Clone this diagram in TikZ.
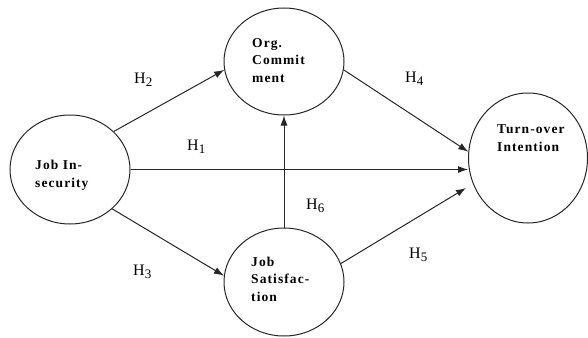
\documentclass[tikz,border=0pt]{standalone}
\usepackage{fontspec}
\setmainfont{Liberation Serif}
\usetikzlibrary{shapes.geometric,arrows.meta,calc}
\newcommand\hsub[1]{H\raisebox{-3pt}{\fontsize{13}{13}\selectfont #1}}
\begin{document}
\begin{tikzpicture}[x=1pt,y=-1pt,
  cons/.style={draw=black!85,line width=1pt,ellipse,inner sep=0pt},
  lbl/.style={font=\fontsize{13.5}{17.5}\selectfont\bfseries\addfontfeature{LetterSpace=8},align=left,anchor=base west,inner sep=0pt},
  hyp/.style={font=\fontsize{16}{18}\selectfont,anchor=base west,inner sep=0pt},
  link/.style={draw=black!85,line width=1pt,-{Latex[length=10pt,width=7pt]}}]
\useasboundingbox (0,0) rectangle (588,337);
\fill[white] (0,0) rectangle (588,337);
% constructs
\node[cons,minimum width=120,minimum height=109] (ji) at (70,169.5) {};
\node[cons,minimum width=120,minimum height=107] (oc) at (284,61.5) {};
\node[cons,minimum width=120,minimum height=108] (js) at (284,282) {};
\node[cons,minimum width=119,minimum height=130] (ti) at (528,158) {};
% texts (anchored at baseline of last line)
\node[lbl] (tji) at (35,187) {Job In-\\security};
\node[lbl] (toc) at (252,82) {Org.\\Commit\\ment};
\node[lbl] (tjs) at (251,301) {Job\\Satisfac-\\tion};
\node[lbl] (tti) at (497,151) {Turn-over\\Intention};
% connectors
\draw[link] (ji.41) -- (oc.188);
\draw[link] (ji.east) -- (ti.west |- ji.east);
\draw[link] (ji.-43) -- (js.174);
\draw[link] (oc.-8) -- (ti.174.4);
\draw[link] (js.18.7) -- ($(ti.west)+(-2,30)$);
\draw[link] (js.north) -- (oc.south);
% hypothesis labels
\node[hyp] (h1) at (187,150) {\hsub{1}};
\node[hyp] (h2) at (134,83) {\hsub{2}};
\node[hyp] (h3) at (133,275) {\hsub{3}};
\node[hyp] (h4) at (405,82) {\hsub{4}};
\node[hyp] (h5) at (409,258) {\hsub{5}};
\node[hyp] (h6) at (306,209) {\hsub{6}};
\end{tikzpicture}
\end{document}
